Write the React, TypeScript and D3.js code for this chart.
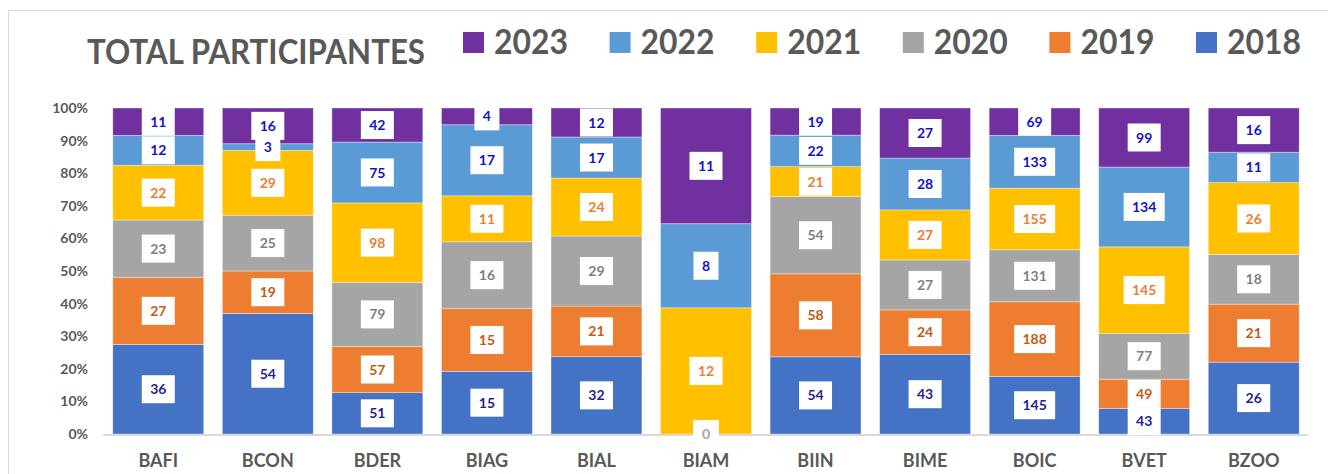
import * as d3 from 'd3'

const categories = ['BAFI', 'BCON', 'BDER', 'BIAG', 'BIAL', 'BIAM', 'BIIN', 'BIME', 'BOIC', 'BVET', 'BZOO']
const years = ['2018', '2019', '2020', '2021', '2022', '2023']

const v2018 = [36, 54, 51, 15, 32, 0, 54, 43, 145, 43, 26]
const v2019 = [27, 19, 57, 15, 21, 0, 58, 24, 188, 49, 21]
const v2020 = [23, 25, 79, 16, 29, 0, 54, 27, 131, 77, 18]
const v2021 = [22, 29, 98, 11, 24, 12, 21, 27, 155, 145, 26]
const v2022 = [12, 3, 75, 17, 17, 8, 22, 28, 133, 134, 11]
const v2023 = [11, 16, 42, 4, 12, 11, 19, 27, 69, 99, 16]

const yTicks = [0, 0.1, 0.2, 0.3, 0.4, 0.5, 0.6, 0.7, 0.8, 0.9, 1]

const seriesValues = [v2018, v2019, v2020, v2021, v2022, v2023]
const barColors = ['#4472C4', '#ED7D31', '#A5A5A5', '#FFC000', '#5B9BD5', '#7030A0']
const labelColors = ['#1F1F96', '#C55A11', '#7F7F7F', '#ED7D31', '#1212CC', '#1212CC']

const FONT = 'Lato, "Open Sans", sans-serif'
const TEXT = '#595959'

export default function App() {
  const width = 1328
  const height = 474
  const top = 108
  const bottom = 434

  const rows = categories.map((c, i) => {
    const row: Record<string, number | string> = { cat: c }
    years.forEach((y, k) => (row[y] = seriesValues[k][i]))
    return row
  })

  const stack = d3.stack<Record<string, number | string>>()
    .keys(years)
    .value((d, k) => d[k] as number)
    .offset(d3.stackOffsetExpand)
  const series = stack(rows)

  const x = d3.scaleBand<string>()
    .domain(categories)
    .range([103.5, 1308.5])
    .paddingInner(0.17)
    .paddingOuter(0.085)

  const y = d3.scaleLinear().domain([0, 1]).range([bottom, top])

  const legendOrder = [...years].reverse()
  const legendX = d3.scalePoint<string>().domain(legendOrder).range([463, 1196])

  return (
    <svg width={width} height={height} style={{ position: 'absolute', left: 0, top: 0, background: '#fff' }}
      fontFamily={FONT}>
      <defs>
        <clipPath id="plotClip">
          <rect x={0} y={top} width={width} height={height - top} />
        </clipPath>
      </defs>
      <rect x={8.5} y={10.5} width={1340} height={500} fill="#fff" stroke="#D9D9D9" />

      <text x={87} y={64} fontSize={35} fontWeight={700} fill={TEXT}
        textLength={338} lengthAdjust="spacingAndGlyphs">TOTAL PARTICIPANTES</text>

      {legendOrder.map(yr => {
        const k = years.indexOf(yr)
        const lx = legendX(yr) ?? 0
        return (
          <g key={yr}>
            <rect x={lx} y={32} width={21} height={21} fill={barColors[k]} />
            <text x={lx + 31} y={54} fontSize={35} fontWeight={700} fill={TEXT}
              textLength={74} lengthAdjust="spacingAndGlyphs">{yr}</text>
          </g>
        )
      })}

      {yTicks.map(t => (
        <text key={t} x={88} y={y(t)} dy="0.36em" textAnchor="end" fontSize={14} fontWeight={700} fill={TEXT}>
          {d3.format('.0%')(t)}
        </text>
      ))}

      {series.map((s, k) => (
        <g key={s.key}>
          {s.map((d, i) => {
            const h = y(d[0]) - y(d[1])
            if (!(h > 0)) return null
            return (
              <rect key={i} x={x(categories[i])} y={y(d[1])} width={x.bandwidth()} height={h}
                fill={barColors[k]} stroke="#ffffff" strokeOpacity={0.45} strokeWidth={0.8} />
            )
          })}
        </g>
      ))}

      <line x1={103} x2={1308} y1={bottom + 1} y2={bottom + 1} stroke="#D9D9D9" strokeWidth={2} />

      <g clipPath="url(#plotClip)">
        {series.map((s, k) => (
          <g key={s.key}>
            {s.map((d, i) => {
              const v = seriesValues[k][i]
              const a = isNaN(d[0]) ? 0 : d[0]
              const b = isNaN(d[1]) ? 0 : d[1]
              const cy = (y(a) + y(b)) / 2
              const cx = (x(categories[i]) ?? 0) + x.bandwidth() / 2
              const w = String(v).length * 8 + 17
              return (
                <g key={i}>
                  <rect x={cx - w / 2} y={cy - 14} width={w} height={28} fill="#fff" />
                  <text x={cx} y={cy} dy="0.36em" textAnchor="middle" fontSize={14} fontWeight={700}
                    fill={v === 0 ? '#A5A5A5' : labelColors[k]}>{v}</text>
                </g>
              )
            })}
          </g>
        ))}
      </g>

      {categories.map(c => (
        <text key={c} x={(x(c) ?? 0) + x.bandwidth() / 2} y={467} textAnchor="middle" fontSize={18}
          fontWeight={700} fill={TEXT}>{c}</text>
      ))}
    </svg>
  )
}
